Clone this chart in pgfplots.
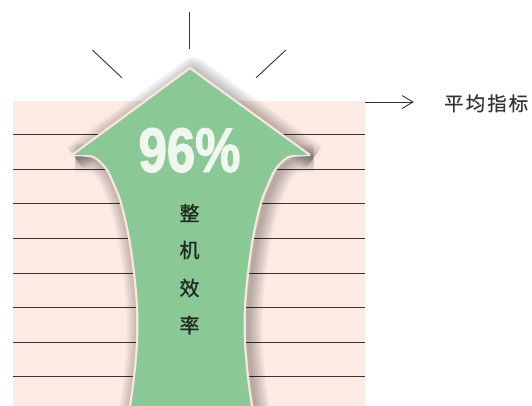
\documentclass[border=0pt]{standalone}
\usepackage{fontspec}
\setmainfont{Liberation Sans}
\newfontfamily\cjk{Noto Sans CJK SC}
\newfontfamily\cjkmid{Noto Sans CJK SC}[FakeBold=0.9]
\newfontfamily\cjklab{Noto Sans CJK SC}[FakeBold=0.5]
\newfontfamily\numfont{Liberation Sans}[BoldFeatures={FakeBold=2.2}]
\usepackage{graphicx}
\usepackage{pgfplots}
\usepackage{pgfplotstable}
\pgfplotsset{compat=1.18}

\definecolor{pinkbg}{HTML}{FDEBE3}
\definecolor{arrowgreen}{HTML}{8AC895}
\definecolor{cream}{HTML}{FAE6DA}
\definecolor{rulec}{HTML}{3C3432}
\definecolor{numc}{HTML}{EFF7EF}
\definecolor{cjkc}{HTML}{1F2B21}
\definecolor{greytxt}{HTML}{333333}

% arrow outline, picture pixels, y downwards
\pgfplotstableread{
x y
72 155
90 156
98 160
107 170
114 185
121 203
129 238
134 273
137 307
137 342
134 377
130 406
126 430
124 460
258 460
256 430
252 406
248 377
245 342
245 307
248 273
253 238
261 203
268 185
275 170
284 160
292 156
310 155
}\shaft

\pgfplotstableread{
x y
72 155
190 68
310 155
}\head

\begin{document}
\begin{tikzpicture}
\path[use as bounding box] (0,0) rectangle (532pt,406pt);
\begin{axis}[
  width=532pt, height=406pt, scale only axis,
  xmin=0, xmax=532, ymin=0, ymax=406, y dir=reverse,
  hide axis,
]
% background panel and rules
\addplot[fill=pinkbg, draw=none] coordinates {(13,101.5)(365,101.5)(365,406)(13,406)};
\addplot[rulec, line width=1.1pt, unbounded coords=jump] coordinates {
(13,134.7)(365,134.7)(13,nan)
(13,169.3)(365,169.3)(13,nan)
(13,203.9)(365,203.9)(13,nan)
(13,238.5)(365,238.5)(13,nan)
(13,273.1)(365,273.1)(13,nan)
(13,307.7)(365,307.7)(13,nan)
(13,342.3)(365,342.3)(13,nan)
(13,376.9)(365,376.9)
};

% soft shadow
\pgfplotsinvokeforeach{4,8,12,16,20,24,28}{
  \addplot[draw=black, draw opacity=0.045, line width=#1pt, smooth, line join=round,
    xshift=3.5pt, yshift=-3pt] table {\shaft};
  \addplot[draw=black, draw opacity=0.045, line width=#1pt, line join=round,
    xshift=3.5pt, yshift=-3pt] table {\head};
}

% arrow
\addplot[fill=arrowgreen, draw=cream, line width=2.2pt, smooth] table {\shaft};
\addplot[fill=arrowgreen, draw=cream, line width=2.2pt, line join=miter] table {\head};

% rays
\addplot[greytxt, line width=0.9pt] coordinates {(189.5,12)(189.5,49)};
\addplot[greytxt, line width=0.9pt] coordinates {(92.4,50)(121.8,77.7)};
\addplot[greytxt, line width=0.9pt] coordinates {(285.9,50)(256.1,77.7)};

% pointer to label
\addplot[greytxt, line width=0.9pt] coordinates {(365,102)(413,102)};
\addplot[greytxt, line width=0.9pt] coordinates {(402,95.5)(413,102)(402,108.5)};

\node[anchor=base, inner sep=0, text=numc] at (axis cs:189.5,171.7)
  {\scalebox{0.84}[1.03]{\numfont\fontsize{60.6}{60}\selectfont\bfseries 96\%}};
\node[inner sep=0, text=cjkc] at (axis cs:189.5,213) {\cjkmid\fontsize{20}{20}\selectfont 整};
\node[inner sep=0, text=cjkc] at (axis cs:189.5,250) {\cjkmid\fontsize{20}{20}\selectfont 机};
\node[inner sep=0, text=cjkc] at (axis cs:189.5,288) {\cjkmid\fontsize{20}{20}\selectfont 效};
\node[inner sep=0, text=cjkc] at (axis cs:189.5,325) {\cjkmid\fontsize{20}{20}\selectfont 率};

\node[anchor=west, inner sep=0, text=greytxt] at (axis cs:444,103.3)
  {\cjklab\fontsize{19.5}{20}\selectfont 平\hspace{2pt}均\hspace{2pt}指\hspace{2pt}标};
\end{axis}
\end{tikzpicture}
\end{document}
